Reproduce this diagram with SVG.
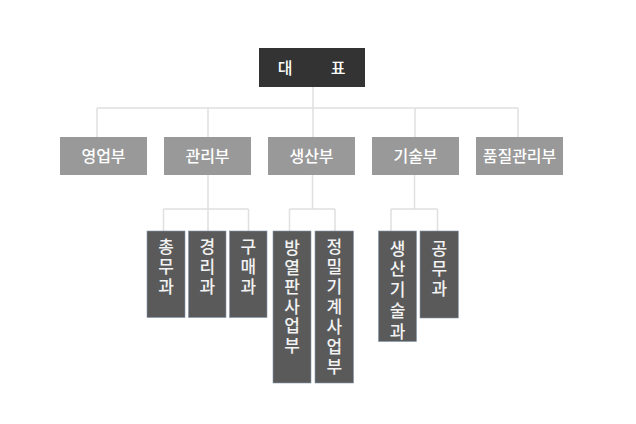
<svg xmlns="http://www.w3.org/2000/svg" width="636" height="424" viewBox="0 0 636 424">
<style>
.top{fill:#333333}
.l2{fill:#999999}
.l3{fill:#5a5a5a;stroke:#8296aa;stroke-width:0.6}
.t{font-family:"Noto Sans CJK KR","Noto Sans",sans-serif;fill:#ffffff;text-anchor:middle;font-weight:500}
.t2{font-size:16px}
.t3{font-size:17px;fill:#f2f2f2}
.ln{stroke:#e0e0e0;stroke-width:1.5;fill:none}
</style>
<rect width="636" height="424" fill="#ffffff"/>
<g id="connectors">
<path class="ln" d="M313,87 V108 M97,108 H518 M97,108 V137 M208,108 V137 M313,108 V137 M415,108 V137 M518,108 V137"/>
<path class="ln" d="M208,175 V209 M163.5,209 H248.5 M163.5,209 V231 M208,209 V231 M248.5,209 V231"/>
<path class="ln" d="M312.5,175 V209 M289.5,209 H335 M289.5,209 V231 M335,209 V231"/>
<path class="ln" d="M414.5,175 V209 M391,209 H437.5 M391,209 V231 M437.5,209 V231"/>
</g>
<g id="n-ceo">
<rect class="top" x="259" y="48" width="106" height="39"/>
<text class="t t2" x="285" y="73.5">대</text>
<text class="t t2" x="338" y="73.5">표</text>
</g>
<g id="n-sales">
<rect class="l2" x="60" y="137" width="87" height="38"/>
<text class="t t2" x="103.5" y="162">영업부</text>
</g>
<g id="n-admin">
<rect class="l2" x="164" y="137" width="87" height="38"/>
<text class="t t2" x="207.5" y="162">관리부</text>
</g>
<g id="n-prod">
<rect class="l2" x="268" y="137" width="87" height="38"/>
<text class="t t2" x="311.5" y="162">생산부</text>
</g>
<g id="n-tech">
<rect class="l2" x="372" y="137" width="87" height="38"/>
<text class="t t2" x="415.5" y="162">기술부</text>
</g>
<g id="n-qa">
<rect class="l2" x="476" y="137" width="87" height="38"/>
<text class="t t2" x="519.5" y="162">품질관리부</text>
</g>
<g id="n-general">
<rect class="l3" x="147" y="231" width="38" height="86.5"/>
<text class="t t3" y="253"><tspan x="166">총</tspan><tspan x="166" dy="20">무</tspan><tspan x="166" dy="20">과</tspan></text>
</g>
<g id="n-account">
<rect class="l3" x="188.5" y="231" width="37.5" height="86.5"/>
<text class="t t3" y="253"><tspan x="207.2">경</tspan><tspan x="207.2" dy="20">리</tspan><tspan x="207.2" dy="20">과</tspan></text>
</g>
<g id="n-purchase">
<rect class="l3" x="229.5" y="231" width="37.5" height="86.5"/>
<text class="t t3" y="253"><tspan x="248.2">구</tspan><tspan x="248.2" dy="20">매</tspan><tspan x="248.2" dy="20">과</tspan></text>
</g>
<g id="n-heatsink">
<rect class="l3" x="273" y="231" width="38" height="152"/>
<text class="t t3" y="254"><tspan x="292">방</tspan><tspan x="292" dy="19.5">열</tspan><tspan x="292" dy="19.5">판</tspan><tspan x="292" dy="19.5">사</tspan><tspan x="292" dy="19.5">업</tspan><tspan x="292" dy="19.5">부</tspan></text>
</g>
<g id="n-precision">
<rect class="l3" x="315" y="231" width="38.5" height="152"/>
<text class="t t3" y="253"><tspan x="334.2">정</tspan><tspan x="334.2" dy="20">밀</tspan><tspan x="334.2" dy="20">기</tspan><tspan x="334.2" dy="20">계</tspan><tspan x="334.2" dy="20">사</tspan><tspan x="334.2" dy="20">업</tspan><tspan x="334.2" dy="20">부</tspan></text>
</g>
<g id="n-prodtech">
<rect class="l3" x="378.5" y="231" width="38" height="110.5"/>
<text class="t t3" y="254.5"><tspan x="397.5">생</tspan><tspan x="397.5" dy="20.8">산</tspan><tspan x="397.5" dy="20.8">기</tspan><tspan x="397.5" dy="20.8">술</tspan><tspan x="397.5" dy="20.8">과</tspan></text>
</g>
<g id="n-works">
<rect class="l3" x="420" y="231" width="38.3" height="87"/>
<text class="t t3" y="254.5"><tspan x="439.2">공</tspan><tspan x="439.2" dy="20">무</tspan><tspan x="439.2" dy="20">과</tspan></text>
</g>
</svg>
